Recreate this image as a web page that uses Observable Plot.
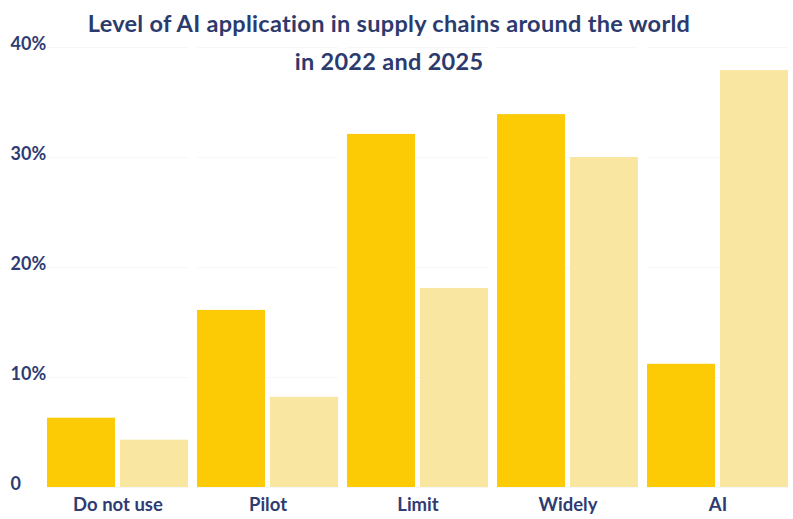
<!DOCTYPE html>
<html>
<head>
<meta charset="utf-8">
<script src="https://cdn.jsdelivr.net/npm/d3@7"></script>
<script src="https://cdn.jsdelivr.net/npm/@observablehq/plot@0.6"></script>
<style>
  html, body { margin: 0; padding: 0; background: #ffffff; }
  #wrap { position: relative; width: 793px; height: 519px; overflow: hidden; font-family: Lato, "Open Sans", sans-serif; }
  #title { position: absolute; left: 0; top: 4px; width: 778px; text-align: center; color: #2c3a6e; font-weight: 700; font-size: 23.5px; letter-spacing: 0.3px; line-height: 38px; z-index: 2; }
  #chart { position: absolute; left: 0; top: 0; }
</style>
</head>
<body>
<div id="wrap">
  <div id="title">Level of AI application in supply chains around the world<br>in 2022 and 2025</div>
  <div id="chart"></div>
</div>
<script>
const categories = ["Do not use", "Pilot", "Limit", "Widely", "AI"];
const years = ["2022", "2025"];
const values2022 = [6.3, 16.1, 32.1, 33.9, 11.2];
const values2025 = [4.3, 8.2, 18.1, 30.0, 37.9];
const yTicks = [0, 10, 20, 30, 40];
const yTickLabels = ["0", "10%", "20%", "30%", "40%"];
const yearColors = ["#fccb06", "#f9e6a0"];

const rows = [];
categories.forEach((c, i) => {
  rows.push({category: c, year: years[0], value: values2022[i]});
  rows.push({category: c, year: years[1], value: values2025[i]});
});

const textColor = "#2f3c73";

const chart = Plot.plot({
  width: 793,
  height: 519,
  marginTop: 47,
  marginBottom: 32,
  marginLeft: 47,
  marginRight: 5,
  style: {fontFamily: "Lato, 'Open Sans', sans-serif", background: "transparent"},
  fx: {domain: categories, paddingInner: 0.06, paddingOuter: 0, label: null},
  x: {domain: years, paddingInner: 0.07, paddingOuter: 0, axis: null},
  y: {domain: [0, 40], label: null},
  color: {domain: years, range: yearColors},
  marks: [
    Plot.gridY(yTicks, {stroke: "#dfe3ea", strokeOpacity: 0.3}),
    Plot.barY(rows, {fx: "category", x: "year", y: "value", fill: "year"}),
    Plot.axisY(yTicks, {
      anchor: "left",
      tickSize: 0,
      tickPadding: 37,
      textAnchor: "start",
      tickFormat: d => yTickLabels[yTicks.indexOf(d)],
      fill: textColor,
      fontSize: 18,
      fontWeight: 700,
      dy: -3,
      label: null
    }),
    Plot.axisFx({
      anchor: "bottom",
      tickSize: 0,
      tickPadding: 10,
      fill: textColor,
      fontSize: 18.5,
      fontWeight: 700,
      label: null
    })
  ]
});
document.getElementById("chart").appendChild(chart);
</script>
</body>
</html>
